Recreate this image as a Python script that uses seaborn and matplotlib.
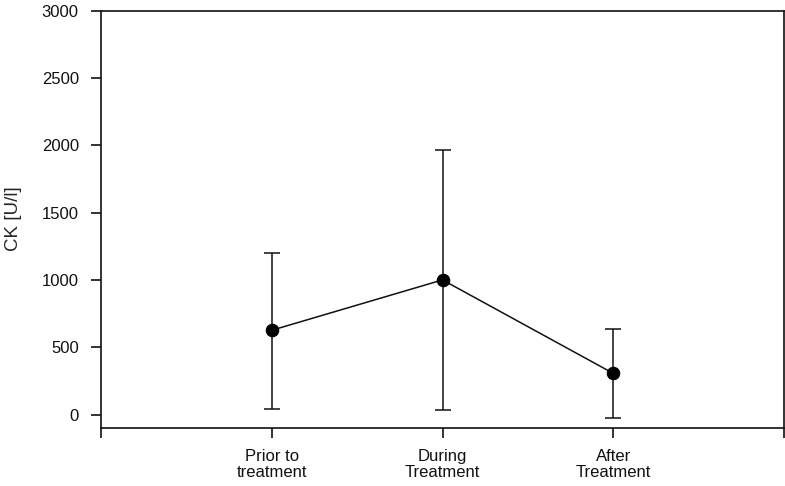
import matplotlib
matplotlib.use("Agg")
import matplotlib.pyplot as plt
import seaborn as sns
import pandas as pd
import numpy as np

categories = ["Prior to\ntreatment", "During\nTreatment", "After\nTreatment"]
means = [627, 1001, 307]
upper = [1204, 1963, 634]
lower = [45, 37, -28]
y_ticks = [0, 500, 1000, 1500, 2000, 2500, 3000]

sns.set_theme(style="ticks")
plt.rcParams['font.family'] = ['Liberation Sans', 'DejaVu Sans']

fig = plt.figure(figsize=(7.85, 4.86), dpi=100)
ax = fig.add_axes([0.1287, 0.119, 0.8700, 0.859])

pos = np.arange(1, len(categories) + 1)
df = pd.DataFrame({"x": pos, "CK": means})

yerr = np.array([[m - l for m, l in zip(means, lower)],
                 [u - m for m, u in zip(means, upper)]])
ax.errorbar(df["x"], df["CK"], yerr=yerr, fmt="none", ecolor="#111111",
            elinewidth=1.1, capsize=5.5, capthick=1.1, zorder=2)
sns.lineplot(data=df, x="x", y="CK", ax=ax, color="#111111", linewidth=1.1,
             marker="o", markersize=9, markeredgecolor="black",
             markerfacecolor="black", zorder=3)

ax.set_xlim(0, 4)
ax.set_ylim(-100, 3000)
ax.set_xticks([0, 1, 2, 3, 4])
ax.set_xticklabels([""] + categories + [""], linespacing=1.1)
ax.set_yticks(y_ticks)
ax.set_yticklabels([str(t) for t in y_ticks])
ax.set_xlabel("")
ax.set_ylabel("CK [U/l]", fontsize=13.5)
ax.yaxis.set_label_coords(-0.115, 0.502)

for s in ax.spines.values():
    s.set_visible(True)
    s.set_color("#111111")
    s.set_linewidth(1.2)

ax.tick_params(axis="both", direction="out", length=7, width=1.2,
               color="#111111", labelsize=12, labelcolor="#111111")
ax.tick_params(axis="x", pad=8)
ax.tick_params(axis="y", pad=9)
ax.grid(False)

fig.savefig("out.png", dpi=100, facecolor="white")
